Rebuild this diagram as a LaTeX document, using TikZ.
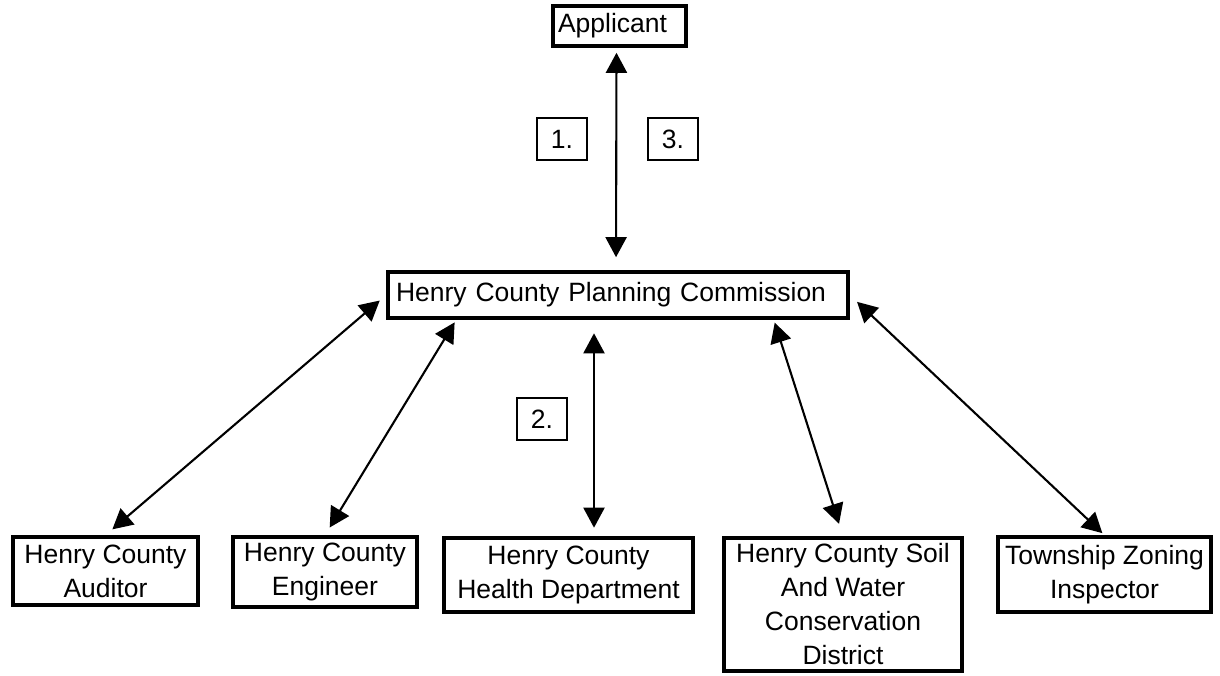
\documentclass[tikz,border=0pt]{standalone}
\usepackage{fontspec}
\setmainfont{Liberation Sans}
\usetikzlibrary{arrows.meta,calc}
\begin{document}
\begin{tikzpicture}[x=1pt,y=-1pt,
  every node/.style={font=\fontsize{26.5}{34}\selectfont},
  box/.style={draw, line width=3.6pt, inner sep=0pt, align=center},
  lbl/.style={draw, line width=1.2pt, minimum width=50pt, minimum height=42pt, inner sep=0pt},
  biarrow/.style={line width=2.1pt, {Triangle[length=20pt,width=21pt]}-{Triangle[length=20pt,width=21pt]}}]
\useasboundingbox (0,0) rectangle (1220,676);

\node[box, align=left, text width=123pt, inner xsep=5pt, minimum height=40pt] (app) at (619.5,26) {Applicant};
\node[box, align=left, text width=444pt, inner xsep=8pt, minimum height=46pt] (pc) at (618,295) {Henry County Planning Commission};

\node[box, minimum width=185pt, minimum height=68pt] (aud) at (105.5,571) {Henry County\\Auditor};
\node[box, minimum width=184pt, minimum height=70pt] (eng) at (325,572) {Henry County\\Engineer};
\node[box, minimum width=249pt, minimum height=74pt] (hea) at (568.5,575) {Henry County\\Health Department};
\node[box, minimum width=238pt, minimum height=133pt] (soil) at (843,604.5) {Henry County Soil\\And Water\\Conservation\\District};
\node[box, minimum width=213pt, minimum height=75pt] (twp) at (1104.5,574.5) {Township Zoning\\Inspector};

\node[lbl] (l1) at (562,139) {1.};
\node[lbl] (l3) at (673,139) {3.};
\node[lbl] (l2) at (542,419) {2.};

\draw[biarrow, shorten <=5pt, shorten >=13pt] ($(app.south)+(-3,0)$) -- ($(pc.north)+(-2,0)$);
\draw[biarrow, shorten <=9pt, shorten >=8.5pt] (aud.north) -- (pc.west);
\draw[biarrow, shorten <=9pt, shorten >=3pt] (eng.north) -- ($(pc.south west)+(70,0)$);
\draw[biarrow, shorten <=8.5pt, shorten >=13.5pt] ($(hea.north)+(25.5,0)$) -- ($(pc.south)+(-24,0)$);
\draw[biarrow, shorten <=13pt, shorten >=3pt] (soil.north) -- ($(pc.south east)+(-76,0)$);
\draw[biarrow, shorten <=3pt, shorten >=10pt] (twp.north) -- (pc.east);
\end{tikzpicture}
\end{document}
